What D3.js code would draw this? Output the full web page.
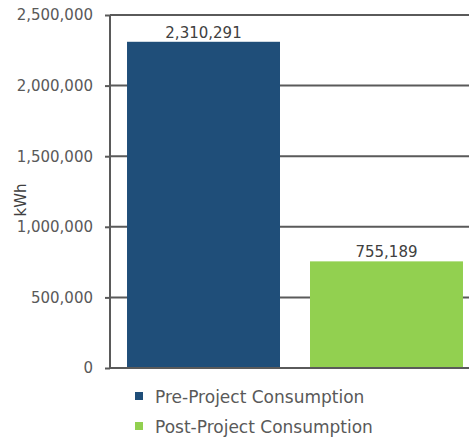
<!DOCTYPE html>
<html>
<head>
<meta charset="utf-8">
<script src="https://cdn.jsdelivr.net/npm/d3@7"></script>
<style>
  html, body { margin: 0; padding: 0; background: #fff; }
  svg { display: block; }
  text { font-family: "DejaVu Sans", sans-serif; }
</style>
</head>
<body>
<svg id="chart" width="469" height="439"></svg>
<script>
// Energy consumption before and after the project
const categories = ["Pre-Project Consumption", "Post-Project Consumption"];
const values = [2310291, 755189];
const colors = ["#1F4E79", "#92D050"];
const yTicks = [0, 500000, 1000000, 1500000, 2000000, 2500000];
const yLabel = "kWh";

const svg = d3.select("#chart");
const W = 469, H = 439;

const y = d3.scaleLinear().domain([0, 2500000]).range([368, 15]);
const x = d3.scaleBand().domain(categories).range([110, 480])
  .paddingInner(0.164).paddingOuter(0.093);

const fmt = d3.format(",");

// horizontal gridlines
svg.append("g").selectAll("line").data(yTicks.slice(1)).join("line")
  .attr("x1", 110).attr("x2", W)
  .attr("y1", d => y(d)).attr("y2", d => y(d))
  .attr("stroke", "#5a5a5a").attr("stroke-width", 2);

// bars
svg.append("g").selectAll("rect").data(values).join("rect")
  .attr("x", (d, i) => x(categories[i]))
  .attr("width", x.bandwidth())
  .attr("y", d => y(d))
  .attr("height", d => y(0) - y(d))
  .attr("fill", (d, i) => colors[i]);

// value labels
svg.append("g").selectAll("text").data(values).join("text")
  .attr("x", (d, i) => x(categories[i]) + x.bandwidth() / 2)
  .attr("y", d => y(d) - 4)
  .attr("text-anchor", "middle")
  .attr("font-size", 15)
  .attr("fill", "#404040")
  .text(d => fmt(d));

// y axis
const yAxis = d3.axisLeft(y).tickValues(yTicks).tickFormat(fmt).tickSize(5).tickPadding(12);
const gy = svg.append("g").attr("transform", "translate(110,0)").call(yAxis);
gy.select(".domain").attr("stroke", "#5a5a5a").attr("stroke-width", 2).attr("d", `M0,${y(2500000)}V${y(0)}`);
gy.selectAll(".tick line").attr("stroke", "#5a5a5a").attr("stroke-width", 2);
gy.selectAll(".tick text").attr("font-size", 15).attr("fill", "#595959")
  .attr("font-family", "'DejaVu Sans', sans-serif");

// x baseline
svg.append("line")
  .attr("x1", 110).attr("x2", W)
  .attr("y1", y(0)).attr("y2", y(0))
  .attr("stroke", "#5a5a5a").attr("stroke-width", 2);

// y axis title
svg.append("text")
  .attr("transform", `translate(26,${200}) rotate(-90)`)
  .attr("text-anchor", "middle")
  .attr("font-size", 15)
  .attr("fill", "#404040")
  .text(yLabel);

// legend
const legend = svg.append("g").selectAll("g").data(categories).join("g")
  .attr("transform", (d, i) => `translate(135,${403 + i * 30})`);
legend.append("rect")
  .attr("x", 0).attr("y", -11).attr("width", 8).attr("height", 8)
  .attr("fill", (d, i) => colors[i]);
legend.append("text")
  .attr("x", 20).attr("y", 0)
  .attr("font-size", 17)
  .attr("fill", "#595959")
  .text(d => d);
</script>
</body>
</html>
